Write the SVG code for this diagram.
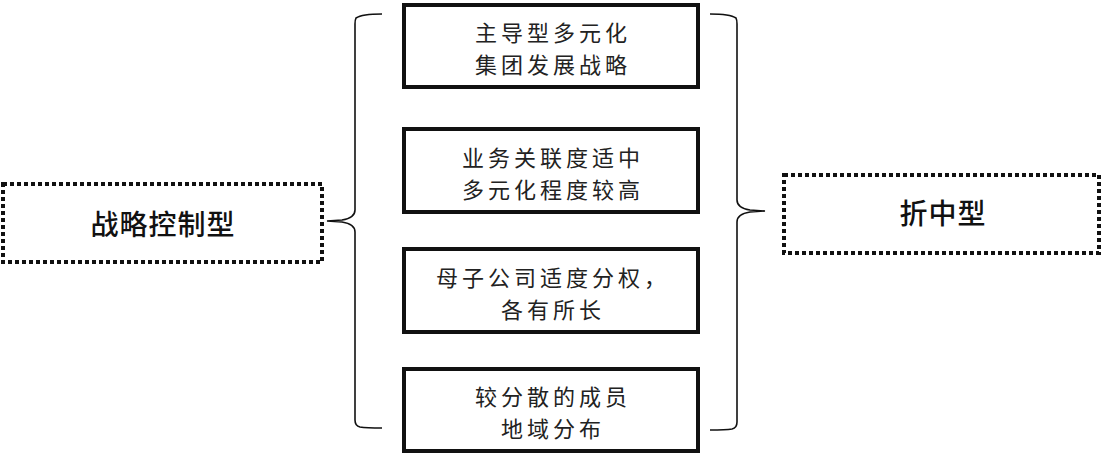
<svg xmlns="http://www.w3.org/2000/svg" width="1105" height="457" viewBox="0 0 1105 457">
<style>
.box{fill:#fff;stroke:#111;stroke-width:4}
.dot{fill:#fff;stroke:#111;stroke-width:4;stroke-dasharray:4 3}
.brace{fill:none;stroke:#111;stroke-width:1.6}
.t{font-family:"Noto Sans CJK SC","Noto Sans CJK JP",sans-serif;font-size:22px;letter-spacing:4px;fill:#222;text-anchor:middle}
.tb{font-family:"Noto Sans CJK SC","Noto Sans CJK JP",sans-serif;font-size:28px;letter-spacing:1px;fill:#111;text-anchor:middle;font-weight:500}
</style>
<rect width="1105" height="457" fill="#fff"/>
<g id="connectors">
<path class="brace" d="M382,14 Q362,14 356,18 Q355,20 355,24 L355,210 Q355,218 342,220 L327,221 L342,222 Q355,224 355,232 L355,420 Q355,426 360,427 Q366,428 382,428"/>
<path class="brace" d="M710,14 Q730,14 736,18 Q737,20 737,24 L737,200 Q737,208 750,210 L765,211 L750,212 Q737,214 737,222 L737,422 Q737,428 732,429 Q726,430 710,430"/>
</g>
<g id="node-left">
<rect class="dot" x="3" y="184" width="319" height="78"/>
<text class="tb" x="163" y="235">战略控制型</text>
</g>
<g id="node-right">
<rect class="dot" x="784" y="175" width="315" height="78"/>
<text class="tb" x="943" y="224">折中型</text>
</g>
<g id="node-1">
<rect class="box" x="404" y="5" width="294" height="82"/>
<text class="t" x="553" y="41">主导型多元化</text>
<text class="t" x="553" y="73">集团发展战略</text>
</g>
<g id="node-2">
<rect class="box" x="404" y="129" width="294" height="83"/>
<text class="t" x="553" y="166">业务关联度适中</text>
<text class="t" x="553" y="198">多元化程度较高</text>
</g>
<g id="node-3">
<rect class="box" x="404" y="249" width="294" height="83"/>
<text class="t" x="553" y="286">母子公司适度分权，</text>
<text class="t" x="553" y="318">各有所长</text>
</g>
<g id="node-4">
<rect class="box" x="404" y="369" width="294" height="82"/>
<text class="t" x="553" y="405">较分散的成员</text>
<text class="t" x="553" y="437">地域分布</text>
</g>
</svg>
